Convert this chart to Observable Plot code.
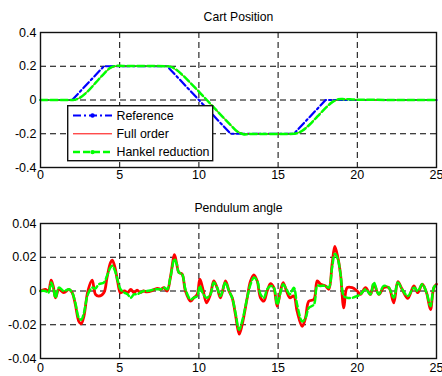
<!DOCTYPE html>
<html><head><meta charset="utf-8">
<script src="https://cdn.jsdelivr.net/npm/d3@7"></script>
<script src="https://cdn.jsdelivr.net/npm/@observablehq/plot@0.6"></script>
<style>
body{margin:0;background:#fff;}
#wrap{position:relative;width:442px;height:376px;font-family:"Liberation Sans",Arial,sans-serif;background:#fff;}
#wrap svg{display:block;}
#legend{position:absolute;left:67px;top:105px;}
</style></head><body>
<div id="wrap"><div id="top"></div><div id="bottom"></div><div id="legend"></div></div>
<script>
// ---- data ----
const topTitle = "Cart Position";
const bottomTitle = "Pendulum angle";
const seriesNames = ["Reference", "Full order", "Hankel reduction"];
const xTicks = [0, 5, 10, 15, 20, 25];
const cartTicks = [-0.4, -0.2, 0, 0.2, 0.4];
const angleTicks = [-0.04, -0.02, 0, 0.02, 0.04];

const refT = [0, 2, 4, 8, 12, 16, 18, 25];
const refV = [0, 0, 0.2, 0.2, -0.2, -0.2, 0, 0];

const cartT = [0,2,2.2,2.5,3,3.5,4,4.4,4.8,5.2,8,8.2,8.5,9,9.5,10,10.5,11,11.5,12,12.4,12.8,13.2,16,16.2,16.5,17,17.5,18,18.4,18.8,19.2,20,25];
const cartFull = [0,0,0.002,0.015,0.055,0.105,0.155,0.188,0.2,0.2,0.2,0.197,0.182,0.143,0.097,0.05,0,-0.05,-0.1,-0.148,-0.183,-0.199,-0.2,-0.2,-0.197,-0.183,-0.143,-0.095,-0.047,-0.015,0.002,0.004,0.001,0];
const cartHankel = [0,0,0.002,0.014,0.053,0.104,0.155,0.19,0.203,0.202,0.2,0.198,0.184,0.145,0.098,0.05,0,-0.05,-0.1,-0.148,-0.185,-0.203,-0.202,-0.2,-0.197,-0.184,-0.145,-0.096,-0.047,-0.014,0.004,0.005,0.002,0];

const angT = [0,0.3,0.5,0.67,0.8,0.95,1.16,1.47,1.8,2.0,2.2,2.42,2.57,2.74,2.99,3.26,3.47,3.68,4.0,4.2,4.42,4.53,4.7,4.88,5.05,5.3,5.5,5.7,5.9,6.1,6.3,6.5,6.7,7.0,7.2,7.4,7.6,7.8,8.0,8.2,8.46,8.6,8.73,8.94,9.15,9.47,9.68,9.89,10.06,10.23,10.48,10.73,10.94,11.15,11.36,11.68,11.9,12.1,12.31,12.54,12.73,13.05,13.26,13.47,13.68,13.89,14.1,14.31,14.52,14.73,14.94,15.15,15.32,15.53,15.74,15.99,16.2,16.52,16.73,16.94,17.26,17.47,17.68,17.99,18.2,18.41,18.58,18.77,18.94,19.15,19.36,19.68,19.99,20.2,20.52,20.83,21.04,21.36,21.67,21.99,22.3,22.56,22.83,23.19,23.57,23.82,24.1,24.37,24.62,24.83,25];
const angFull = [0,0.001,0,0.0064,0.003,-0.004,0.001,-0.001,0.001,-0.001,-0.008,-0.018,-0.0195,-0.015,0,0.0064,-0.002,-0.003,-0.001,0.008,0.0169,0.0183,0.014,0.005,-0.001,0,-0.001,0.001,-0.001,0.0005,-0.001,0,-0.0005,0,0.001,0.0015,0.001,0.002,0,0.008,0.0216,0.016,0.011,0.01,0,-0.006,-0.004,-0.002,0.007,0.002,-0.007,-0.002,0.006,0.002,-0.004,0.006,0,-0.004,-0.014,-0.0256,-0.02,-0.004,0.006,0.0096,0.006,-0.004,-0.006,0,0.0044,0.002,-0.009,0,0.005,0,-0.004,-0.003,-0.012,-0.021,-0.016,-0.006,-0.005,0.006,0.004,0.003,0.001,0.016,0.0264,0.02,0.01,-0.01,0.002,0.002,0,-0.002,0.002,-0.002,0.004,-0.002,0.002,0.002,-0.007,0.0056,0.001,-0.0044,0.003,-0.001,0.004,-0.001,-0.011,0.002,0.004];
const angHankel = [0,0,-0.001,0.005,0.002,-0.004,0.002,0,0.001,-0.001,-0.007,-0.016,-0.017,-0.013,-0.002,0.002,0.0015,0.004,0.005,0.009,0.014,0.015,0.012,0.006,0.001,-0.001,-0.002,-0.004,-0.002,-0.002,-0.001,0,0,0.0005,0.001,0.001,0.001,0.002,0.001,0.008,0.019,0.016,0.011,0.01,0.001,-0.005,-0.004,-0.003,0.003,-0.001,-0.004,-0.002,0.005,0.002,-0.003,0.005,0,-0.004,-0.013,-0.023,-0.018,-0.004,0.004,0.008,0.006,-0.002,-0.004,0.001,0.003,0.002,-0.008,-0.001,0.004,0.001,-0.002,0.002,-0.008,-0.018,-0.016,-0.01,-0.008,0.003,0.003,0.003,0.002,0.014,0.022,0.019,0.01,-0.003,-0.004,-0.004,-0.003,-0.002,0.001,-0.002,0.005,-0.002,0.003,0.002,-0.004,0.005,0.001,-0.003,0.002,0,0.004,-0.001,-0.009,0.002,0.004];

// ---- build tables ----
const refData = refT.map((t, i) => ({t, v: refV[i]}));
const fullData = cartT.map((t, i) => ({t, v: cartFull[i]}));
const hankData = cartT.map((t, i) => ({t, v: cartHankel[i]}));
const angFullData = angT.map((t, i) => ({t, v: angFull[i]}));
const angHankData = angT.map((t, i) => ({t, v: angHankel[i]}));

const BLUE = "#0000ff", RED = "#ff0000", GREEN = "#00ff00";
const font = '"Liberation Sans", Arial, sans-serif';
const fmt = d => String(d);

function panel({height, marginTop, marginBottom, yDomain, yTicks, title, xPad, lines}) {
  return Plot.plot({
    width: 442, height, marginTop, marginBottom, marginLeft: 40, marginRight: 6,
    style: {fontFamily: font, fontSize: "12.5px", background: "white", color: "black"},
    x: {domain: [0, 25]},
    y: {domain: yDomain},
    marks: [
      Plot.gridX(xTicks.slice(1, -1), {stroke: "black", strokeOpacity: 1, strokeDasharray: "6,4"}),
      Plot.gridY(yTicks.slice(1, -1), {stroke: "black", strokeOpacity: 1, strokeDasharray: "6,4"}),
      ...lines,
      Plot.frame({stroke: "#111", strokeWidth: 1.4}),
      Plot.axisX(xTicks, {tickSize: 0, tickPadding: xPad, tickFormat: fmt, label: null}),
      Plot.axisY(yTicks, {tickSize: 0, tickPadding: 4, tickFormat: fmt, label: null}),
      Plot.text([title], {frameAnchor: "top", dy: -15, lineAnchor: "middle", fontSize: 12.2})
    ]
  });
}

const topPlot = panel({
  height: 190, marginTop: 32, marginBottom: 23, yDomain: [-0.4, 0.4], yTicks: cartTicks,
  title: topTitle, xPad: 3,
  lines: [
    Plot.line(refData, {x: "t", y: "v", stroke: BLUE, strokeWidth: 2.2, strokeDasharray: "8,3,2,3"}),
    Plot.line(fullData, {x: "t", y: "v", stroke: RED, strokeWidth: 1, curve: "catmull-rom"}),
    Plot.line(hankData, {x: "t", y: "v", stroke: GREEN, strokeWidth: 2.5, strokeDasharray: "7,3", curve: "catmull-rom"})
  ]
});
document.getElementById("top").append(topPlot);

const bottomPlot = panel({
  height: 186, marginTop: 33, marginBottom: 18, yDomain: [-0.04, 0.04], yTicks: angleTicks,
  title: bottomTitle, xPad: 5,
  lines: [
    Plot.line(angFullData, {x: "t", y: "v", stroke: RED, strokeWidth: 2.8, curve: "catmull-rom"}),
    Plot.line(angHankData, {x: "t", y: "v", stroke: GREEN, strokeWidth: 2.5, strokeDasharray: "6,3", curve: "catmull-rom"})
  ]
});
document.getElementById("bottom").append(bottomPlot);

// ---- legend ----
const lg = d3.create("svg").attr("width", 147).attr("height", 57).style("font-family", font).style("font-size", "12.4px");
lg.append("rect").attr("x", 0.7).attr("y", 0.7).attr("width", 145).attr("height", 55).attr("fill", "white").attr("stroke", "#111").attr("stroke-width", 1.4);
const styles = [
  {stroke: BLUE, w: 2.2, dash: "8,3,2,3", dot: true},
  {stroke: RED, w: 1, dash: null, dot: false},
  {stroke: GREEN, w: 2.5, dash: "7,3", dot: true}
];
seriesNames.forEach((name, i) => {
  const cy = 10.5 + i * 18.3;
  const s = styles[i];
  const l = lg.append("line").attr("x1", 6).attr("x2", 45).attr("y1", cy).attr("y2", cy)
    .attr("stroke", s.stroke).attr("stroke-width", s.w);
  if (s.dash) l.attr("stroke-dasharray", s.dash);
  if (s.dot) lg.append("circle").attr("cx", 25.5).attr("cy", cy).attr("r", 2.2).attr("fill", s.stroke);
  lg.append("text").attr("x", 49.5).attr("y", cy).attr("dy", "0.35em").text(name);
});
document.getElementById("legend").append(lg.node());
</script></body></html>
